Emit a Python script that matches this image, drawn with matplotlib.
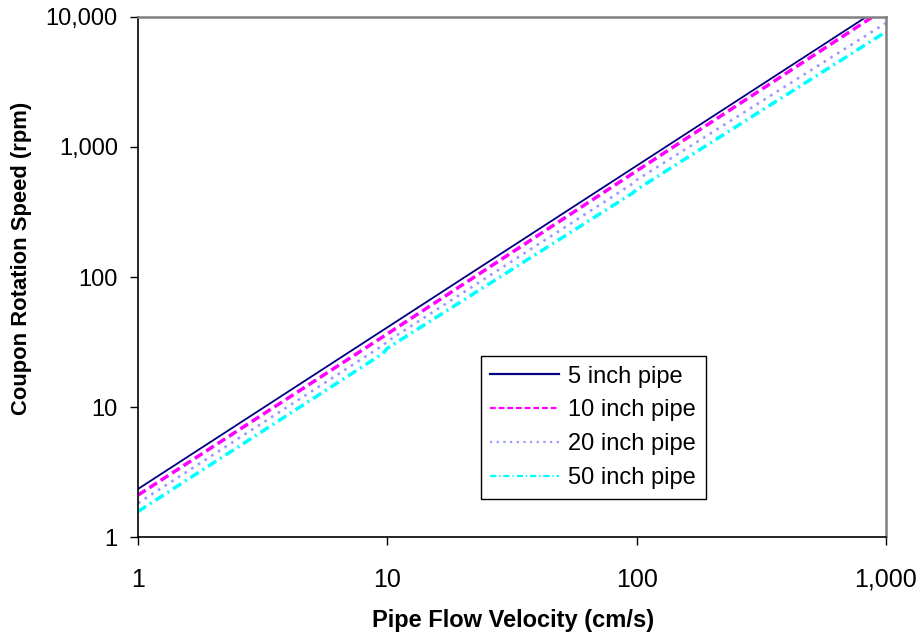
import matplotlib
matplotlib.use("Agg")
import matplotlib.pyplot as plt
from matplotlib.ticker import FixedLocator, FuncFormatter, NullLocator

plt.rcParams['font.family'] = ['Liberation Sans', 'DejaVu Sans']

# Data (log-log)
vel_5 = [1, 1000]
rpm_5 = [2.34, 12570]

vel_10 = [1, 10, 100, 1000]
rpm_10 = [2.10, 36.5, 655, 11700]

vel_20 = [1, 9.6, 10, 96, 100, 1000]
rpm_20 = [1.82, 29.8, 32.0, 520, 558, 9000]

vel_50 = [1, 9.6, 10, 96, 100, 1000]
rpm_50 = [1.57, 25.8, 28.3, 440, 470, 7700]

series_labels = ['5 inch pipe', '10 inch pipe', '20 inch pipe', '50 inch pipe']
x_ticks = [1, 10, 100, 1000]
y_ticks = [1, 10, 100, 1000, 10000]

fig = plt.figure(figsize=(9.18, 6.32), dpi=100)
ax = fig.add_axes([138/918, 1 - 537/632, (886-138)/918, (537-17)/632])

ax.plot(vel_5, rpm_5, color='#000080', lw=1.3, ls='-', label=series_labels[0])
ax.plot(vel_10, rpm_10, color='#FF00FF', lw=2.5, ls=(0, (2.6, 1.3)), label=series_labels[1])
ax.plot(vel_20, rpm_20, color='#9999FF', lw=1.9, ls=(0, (1.0, 2.0)), label=series_labels[2])
ax.plot(vel_50, rpm_50, color='#00FFFF', lw=2.5, ls=(0, (2.8, 1.3, 0.6, 1.3)), label=series_labels[3])

ax.set_xscale('log')
ax.set_yscale('log')
ax.set_xlim(1, 1000)
ax.set_ylim(1, 10000)

fmt = FuncFormatter(lambda v, p: f"{int(round(v)):,}")
ax.xaxis.set_major_locator(FixedLocator(x_ticks))
ax.yaxis.set_major_locator(FixedLocator(y_ticks))
ax.xaxis.set_minor_locator(NullLocator())
ax.yaxis.set_minor_locator(NullLocator())
ax.xaxis.set_major_formatter(fmt)
ax.yaxis.set_major_formatter(fmt)
ax.tick_params(axis='x', which='major', direction='out', length=6, width=1,
               labelsize=18, color='black', pad=16)
ax.tick_params(axis='y', which='major', direction='out', length=6, width=1,
               labelsize=17, color='black', pad=8.5)

for s in ['left', 'bottom']:
    ax.spines[s].set_color('black')
    ax.spines[s].set_linewidth(1.2)
for s in ['top', 'right']:
    ax.spines[s].set_color('#808080')
    ax.spines[s].set_linewidth(1.8)

ax.set_xlabel('Pipe Flow Velocity (cm/s)', fontsize=17, fontweight='bold', va='center')
ax.xaxis.set_label_coords(0.501, (537 - 620) / 520)
ax.set_ylabel('Coupon Rotation Speed (rpm)', fontsize=15.8, fontweight='bold', va='center')
ax.yaxis.set_label_coords((21 - 138) / 748, (537 - 258) / 520)

leg = ax.legend(loc='lower left', bbox_to_anchor=(0.4585, 0.074), fontsize=17,
                frameon=True, fancybox=False, edgecolor='black', framealpha=1,
                handlelength=2.9, handletextpad=0.4, borderpad=0.4, labelspacing=0.5,
                borderaxespad=0)
leg.get_frame().set_linewidth(1.0)
for h in leg.get_lines():
    h.set_linewidth(1.6)

fig.savefig('out.png', dpi=100)
